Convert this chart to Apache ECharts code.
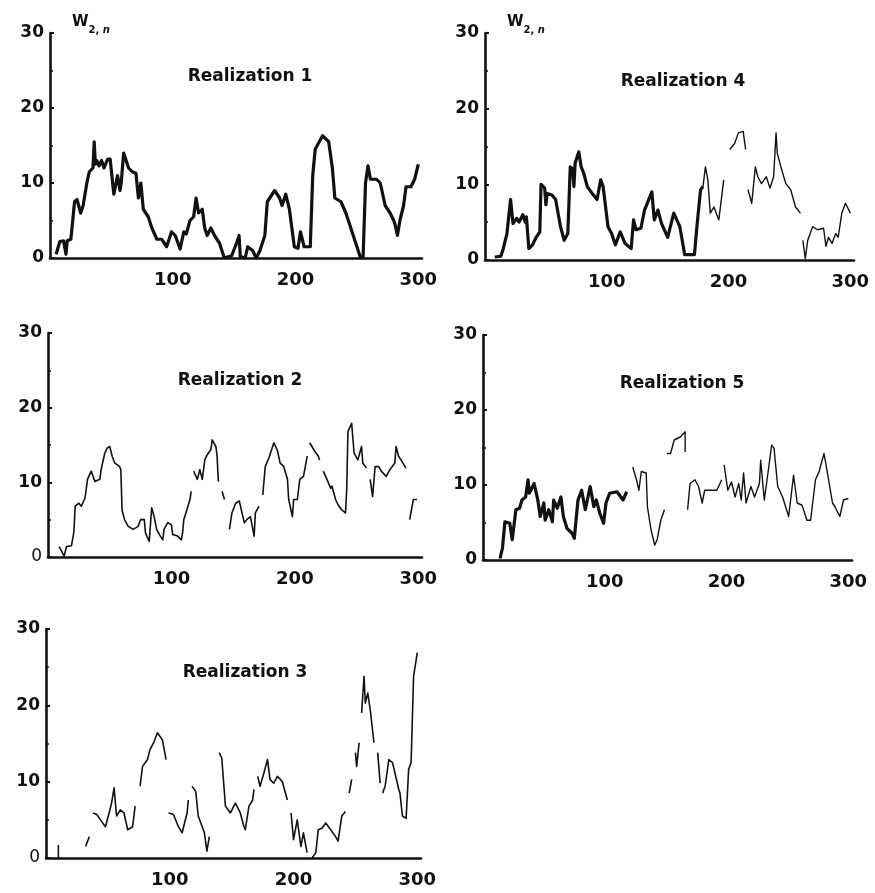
<!DOCTYPE html>
<html>
<head>
<meta charset="utf-8">
<title>Realizations of W2,n</title>
<script src="https://cdn.jsdelivr.net/npm/echarts@6/dist/echarts.min.js"></script>
<style>
  html, body { margin: 0; padding: 0; background: #fff; }
  #chart { width: 875px; height: 893px; }
</style>
</head>
<body>
<div id="chart"></div>
<script>
// tick labels shared by every panel
var xTicks = [100, 200, 300];
var yMin = 0, yMax = 30, yStep = 10;
var titles = ['Realization 1', 'Realization 2', 'Realization 3', 'Realization 4', 'Realization 5'];

// [n, W2,n]; null = gap in the printed trace
var r1 = [[5,0.5],[8,2.2],[11,2.3],[13,0.5],[14,2.3],[17,2.5],[20,7.5],[22,7.8],[25,6],[27,7],[30,10],[32,11.5],[35,12],[36,15.5],[37,12.5],[38,13],[40,12.3],[42,13],[44,12],[47,13.2],[49,13.2],[51,10],[52,8.5],[55,11],[57,9],[58,10],[60,14],[62,13],[64,12],[67,11.5],[70,11.3],[72,8],[74,10],[76,6.5],[80,5.5],[83,4],[87,2.5],[91,2.5],[95,1.5],[99,3.5],[102,3],[106,1.2],[109,3.5],[111,3.2],[114,5],[117,5.5],[119,8],[121,6],[124,6.5],[126,4],[128,3],[131,4],[134,3],[138,2],[142,0],[148,0.3],[152,2],[154,3],[155,0.2],[159,0],[161,1.5],[165,1],[168,0],[171,1],[173,2],[175,3],[177,7.5],[183,9],[187,8],[189,7],[192,8.5],[195,6.5],[197,4],[199,1.5],[202,1.3],[204,3.5],[207,1.5],[212,1.5],[214,11],[216,14.5],[222,16.3],[227,15.5],[230,12],[232,8],[237,7.5],[241,6],[245,4],[249,2],[253,0],[255,0],[257,10],[259,12.3],[261,10.5],[266,10.5],[269,10],[273,7],[277,6],[280,5],[281,4.5],[283,3],[285,5],[288,7],[290,9.5],[294,9.5],[297,10.5],[300,12.5]];

var r2 = [[9,1.4],[11,0.8],[13,0.1],[15,1.4],[19,1.5],[21,3.4],[22,6.8],[25,7.2],[27,6.8],[30,7.9],[32,10.4],[35,11.5],[38,10.1],[42,10.4],[43,11.7],[46,13.9],[48,14.6],[50,14.8],[52,13.5],[54,12.6],[58,12.1],[59,11.7],[60,6.3],[62,5],[65,4.1],[69,3.7],[73,4.1],[75,5],[78,5],[79,3.2],[82,2.1],[84,6.6],[86,5.4],[88,3.7],[91,2.8],[93,2.3],[94,3.7],[97,4.6],[100,4.3],[101,3],[105,2.8],[108,2.3],[109,3.2],[110,5],[113,6.6],[115,7.7],[116,8.8],[117,null],[118,11.5],[121,10.4],[123,11.7],[125,10.4],[127,13],[129,13.7],[132,14.4],[133,15.7],[136,14.8],[137,13.5],[138,10.1],[139,null],[141,8.8],[143,7.7],[144,null],[147,3.7],[149,5.9],[152,7.2],[155,7.5],[159,4.6],[161,5],[164,5.4],[165,5.2],[167,2.8],[168,5.9],[171,6.8],[172,null],[174,8.3],[176,12.1],[179,13.3],[182,14.8],[183,15.3],[186,14.2],[188,12.6],[191,12.1],[194,10.4],[195,7.7],[198,5.4],[199,7.7],[202,7.7],[204,10.4],[207,10.8],[210,13.5],[211,null],[212,15.3],[216,14.2],[219,13.5],[220,13],[221,null],[223,11.5],[226,10.4],[229,9.2],[230,9.5],[233,7.7],[235,7],[238,6.3],[241,5.9],[242,9],[243,16.8],[246,17.9],[248,13.9],[251,13],[254,14.8],[255,12.6],[258,11.9],[259,null],[261,10.4],[263,8.1],[265,12.1],[268,12.1],[270,11.5],[274,10.8],[277,11.7],[281,12.6],[282,14.8],[284,13.5],[286,13],[290,11.9],[291,null],[293,5],[296,7.7],[299,7.7]];

var r3 = [[10,0],[10,1.7],[11,null],[32,1.5],[35,2.8],[36,null],[38,5.9],[41,5.7],[44,5],[48,4.1],[51,5.9],[53,7.2],[55,9.2],[57,5.5],[60,6.3],[63,5.9],[66,3.7],[70,4.1],[72,6.8],[74,null],[76,9.4],[78,12],[82,12.9],[84,14.2],[87,15.1],[90,16.4],[94,15.5],[97,12.9],[98,null],[99,5.9],[103,5.7],[107,4.1],[110,3.3],[114,5.9],[115,7.6],[116,null],[118,9.4],[121,8.7],[123,5.5],[128,3.3],[130,0.9],[132,2.8],[134,null],[137,11.1],[138,null],[140,13.8],[142,13.1],[145,6.8],[149,5.9],[153,7.2],[157,5.9],[160,4.1],[161,3.7],[164,6.8],[167,7.6],[168,9],[169,null],[171,10.7],[173,9.4],[176,11.1],[179,12.9],[181,10.3],[184,9.8],[187,10.7],[191,10],[195,7.6],[196,null],[198,5.9],[200,2.4],[203,5],[206,1.5],[208,3.3],[211,0.7],[212,null],[215,0],[218,0.7],[220,3.7],[223,3.9],[226,4.6],[230,3.7],[234,2.8],[236,2.2],[239,5.5],[242,6.1],[243,null],[245,8.5],[247,10.3],[248,null],[250,13.8],[251,12],[253,15.1],[254,null],[255,19],[257,23.8],[258,20.3],[260,21.6],[262,19.4],[265,15.1],[266,null],[268,13.8],[270,9.8],[271,null],[272,8.5],[274,9.4],[277,12.9],[280,12.5],[282,11.1],[285,9],[286,8.5],[288,5.5],[291,5.2],[293,11.6],[295,12.5],[297,23.8],[300,26.9]];

var r4 = [[8,0.4],[13,0.5],[15,1.5],[18,3.5],[21,8],[23,4.8],[26,5.5],[28,5],[31,6],[33,5],[34,5.7],[36,1.5],[39,2],[42,3],[45,3.7],[46,10],[49,9.5],[50,7.3],[51,8.8],[55,8.6],[58,8],[62,4.4],[65,2.6],[68,3.5],[70,12.3],[72,12],[73,9.7],[74,12.8],[77,14.3],[79,12.3],[81,11.5],[84,9.7],[88,8.8],[92,8],[95,10.6],[97,9.7],[101,4.4],[104,3.5],[107,2],[111,3.7],[115,2.2],[120,1.5],[122,5.3],[124,4],[128,4.2],[131,6.6],[137,9],[139,5.3],[142,6.6],[145,4.8],[150,3],[155,6.2],[160,4.4],[164,0.7],[172,0.7],[174,4.4],[177,9.3],[179,9.7],[181,12.3],[183,10.6],[185,6.2],[188,7],[192,5.3],[196,10.6],[197,null],[199,13.5],[200,null],[201,14.6],[205,15.4],[208,16.8],[212,17],[214,14.6],[215,null],[216,9.3],[219,7.5],[222,12.3],[224,11],[227,10.1],[231,11],[234,9.5],[237,11],[239,16.8],[240,14.1],[243,12.3],[247,10.1],[251,9.3],[255,7],[259,6.2],[260,null],[261,2.6],[263,0.2],[265,2.6],[269,4.4],[273,4],[278,4.2],[280,1.8],[282,3],[285,2.2],[288,3.5],[290,3],[293,6.2],[296,7.5],[300,6.2]];

var r5 = [[14,0.2],[16,1.6],[18,5.1],[22,4.9],[24,2.7],[27,6.7],[30,6.9],[32,8],[35,8.4],[37,10.7],[38,8.9],[42,10.2],[45,8],[47,5.8],[50,7.6],[51,5.3],[54,6.7],[57,5.1],[58,8],[61,6.9],[64,8.4],[66,5.8],[69,4.2],[73,3.6],[75,2.9],[78,8],[81,9.3],[84,6.7],[88,9.8],[91,7.1],[93,8],[96,6.2],[99,4.9],[101,7.6],[104,8.9],[110,9.1],[115,8],[118,9.1],[120,null],[123,12.4],[126,10.7],[128,9.3],[130,11.8],[134,11.6],[135,7.1],[138,4],[141,2],[143,2.7],[146,5.3],[149,6.7],[150,null],[151,14.2],[154,14.2],[157,16],[162,16.4],[166,17.1],[166,14.4],[167,null],[168,6.7],[170,10.2],[174,10.7],[177,9.8],[180,7.6],[182,9.3],[187,9.3],[192,9.3],[196,10.7],[197,null],[198,12.7],[201,9.3],[204,10.4],[207,8.4],[210,10.2],[212,8],[214,11.6],[216,7.6],[220,9.8],[223,8.4],[227,10.2],[228,13.3],[231,8],[234,11.6],[237,15.3],[239,14.9],[242,9.8],[246,8.4],[251,5.8],[255,11.3],[258,7.6],[262,7.3],[266,5.3],[269,5.3],[273,10.7],[276,11.8],[280,14.2],[282,12.4],[287,7.6],[289,7.1],[293,5.8],[296,8],[300,8.2]];

var ink = '#111';
var font = 'DejaVu Sans';

// panel layout (page pixels) - order matches titles
var panels = [
  { data: r1, box: [50, 33, 372, 225],  title: [245, 74],  yName: true,  thickTo: 999, thin: 3.2 },
  { data: r2, box: [48, 333, 374, 224], title: [235, 378], yName: false, thickTo: -1,  thin: 1.6, soft0: true },
  { data: r3, box: [46, 629, 375, 229], title: [240, 670], yName: false, thickTo: -1,  thin: 1.6, soft0: true },
  { data: r4, box: [485, 33, 369, 227], title: [678, 79],  yName: true,  thickTo: 179, thin: 1.4 },
  { data: r5, box: [483, 335, 369, 225], title: [677, 381], yName: false, thickTo: 118, thin: 1.4 }
];

function toXY(arr) {
  return arr.map(function (p) { return [p[0], p[1] === null ? '-' : p[1]]; });
}

var grid = [], xAxis = [], yAxis = [], series = [], title = [];

panels.forEach(function (p, i) {
  grid.push({ left: p.box[0], top: p.box[1], width: p.box[2], height: p.box[3] });

  title.push({
    text: titles[i],
    left: p.title[0], top: p.title[1] - 11, textAlign: 'center',
    textStyle: { fontFamily: font, fontWeight: 'bold', fontSize: 17, color: ink }
  });

  xAxis.push({
    type: 'value', gridIndex: i, min: 0, max: 303,
    axisLine: { onZero: false, lineStyle: { color: ink, width: 2.6 } },
    axisTick: { show: false },
    splitLine: { show: false },
    axisLabel: {
      customValues: xTicks, margin: 13, color: ink,
      fontFamily: font, fontWeight: 'bold', fontSize: 18
    }
  });

  var y = {
    type: 'value', gridIndex: i, min: yMin, max: yMax, interval: yStep,
    axisLine: { show: true, lineStyle: { color: ink, width: 2.6 } },
    axisTick: { show: true, inside: true, length: 4, lineStyle: { color: ink, width: 2 } },
    minorTick: { show: true, splitNumber: 2, length: 3, lineStyle: { color: ink, width: 1.5 } },
    splitLine: { show: false },
    axisLabel: {
      margin: 6, color: ink, fontFamily: font, fontWeight: 'bold', fontSize: 17,
      formatter: p.soft0 ? function (v) { return v === 0 ? '{t|0}' : String(v); } : null,
      rich: { t: { fontFamily: font, fontWeight: 'normal', fontSize: 17, color: ink } }
    }
  };
  if (p.yName) {
    y.name = '{w|W}{s|2, }{n|n}';
    y.nameLocation = 'end';
    y.nameGap = -2;
    y.nameTextStyle = {
      align: 'left', verticalAlign: 'bottom', padding: [0, 0, 0, 22],
      rich: {
        w: { fontFamily: font, fontWeight: 'bold', fontSize: 15, color: ink, verticalAlign: 'top', lineHeight: 20 },
        s: { fontFamily: font, fontWeight: 'bold', fontSize: 10, color: ink, verticalAlign: 'bottom', lineHeight: 20 },
        n: { fontFamily: font, fontWeight: 'bold', fontStyle: 'italic', fontSize: 10, color: ink, verticalAlign: 'bottom', lineHeight: 20 }
      }
    };
  }
  yAxis.push(y);

  // heavy pen for the early part of some traces, fine pen after
  var heavy = p.data.filter(function (d) { return d[0] <= p.thickTo; });
  var light = p.data.filter(function (d) { return d[0] >= p.thickTo; });
  [[heavy, 3.2], [light, p.thin]].forEach(function (part) {
    if (!part[0].length) return;
    series.push({
      type: 'line', xAxisIndex: i, yAxisIndex: i,
      data: toXY(part[0]),
      showSymbol: false, connectNulls: false, silent: true,
      lineStyle: { color: ink, width: part[1], join: 'round' }
    });
  });
});

var chart = echarts.init(document.getElementById('chart'), null, { renderer: 'canvas' });
chart.setOption({
  backgroundColor: '#fff',
  animation: false,
  title: title,
  grid: grid,
  xAxis: xAxis,
  yAxis: yAxis,
  series: series
});
</script>
</body>
</html>
